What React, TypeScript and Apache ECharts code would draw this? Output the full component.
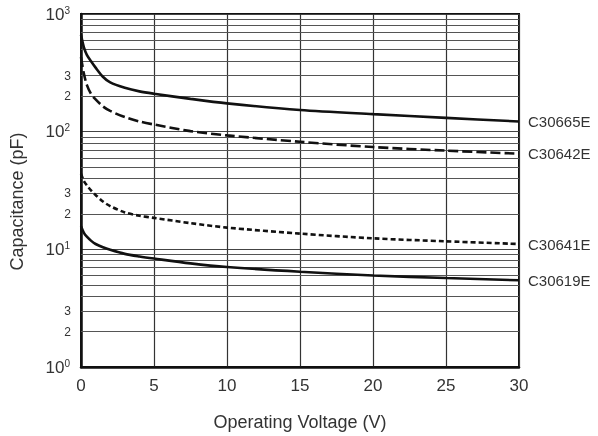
import React, { useEffect, useRef } from "react";
import * as echarts from "echarts";

const voltage = [0, 0.2, 0.4, 0.7, 1.0, 1.5, 2.0, 3.0, 4.0, 5.0, 7.5, 10, 15, 20, 25, 30];
const c30665e = [665, 520, 450, 395, 350, 293, 262, 236, 220, 210, 190, 174, 153, 141, 131, 122];
const c30642e = [430, 310, 250, 208, 188, 164, 150, 133, 122, 115, 101, 93, 82, 74, 69, 65];
const c30641e = [44, 38, 35, 31.5, 29, 25.5, 23.3, 20.6, 19.3, 18.5, 16.7, 15.3, 13.6, 12.4, 11.7, 11.1];
const c30619e = [15.7, 13.8, 12.8, 11.8, 11.1, 10.4, 9.9, 9.15, 8.7, 8.35, 7.6, 7.08, 6.45, 6.0, 5.7, 5.46];
const seriesNames = ["C30665E", "C30642E", "C30641E", "C30619E"];
const minorGrid = [2, 3, 4, 5, 6, 7, 8, 9, 20, 30, 40, 50, 60, 70, 80, 90, 200, 300, 400, 500, 600, 700, 800, 900];
const labeledMinor = [2, 3, 20, 30, 200, 300];
const xTicks = { min: 0, max: 30, interval: 5 };

const FONT = "'Liberation Sans', Arial, Helvetica, sans-serif";

export default function App() {
  const ref = useRef<HTMLDivElement>(null);
  useEffect(() => {
    if (!ref.current) return;
    const chart = echarts.init(ref.current, undefined, { renderer: "svg" });
    const values = [c30665e, c30642e, c30641e, c30619e];
    const dashes: any[] = ["solid", [10, 4], [5, 3], "solid"];
    const series: any[] = values.map((vals, i) => ({
      name: seriesNames[i],
      type: "line",
      data: voltage.map((v, j) => [v, vals[j]]),
      showSymbol: false,
      smooth: 0.3,
      lineStyle: { color: "#111", width: 2.6, type: dashes[i] },
      endLabel: {
        show: true,
        formatter: seriesNames[i],
        color: "#333",
        fontSize: 15,
        fontFamily: FONT,
        distance: 9,
      },
      z: 5,
    }));
    series[0].markLine = {
      silent: true,
      symbol: "none",
      animation: false,
      lineStyle: { color: "#555", width: 1, type: "solid" },
      data: minorGrid.map((v) => ({
        yAxis: v,
        label: {
          show: labeledMinor.indexOf(v) >= 0,
          position: "start",
          formatter: String(v).charAt(0),
          color: "#333",
          fontSize: 12,
          fontFamily: FONT,
          distance: 10,
        },
      })),
    };
    chart.setOption({
      animation: false,
      grid: {
        left: 78,
        right: 79,
        top: 14,
        bottom: 67,
        show: true,
        borderColor: "#111",
        borderWidth: 2,
        backgroundColor: "transparent",
      },
      xAxis: {
        type: "value",
        min: xTicks.min,
        max: xTicks.max,
        interval: xTicks.interval,
        name: "Operating Voltage (V)",
        nameLocation: "middle",
        nameGap: 46,
        nameTextStyle: { fontSize: 18, color: "#333", fontFamily: FONT },
        axisLine: { show: true, lineStyle: { color: "#111", width: 2.5 } },
        axisTick: { show: false },
        axisLabel: { fontSize: 17, color: "#333", fontFamily: FONT, margin: 10 },
        splitLine: { show: true, lineStyle: { color: "#333", width: 1.2 } },
      },
      yAxis: {
        type: "log",
        logBase: 10,
        min: 1,
        max: 1000,
        name: "Capacitance (pF)",
        nameLocation: "middle",
        nameGap: 55,
        nameTextStyle: { fontSize: 18, color: "#333", fontFamily: FONT, padding: [0, 22, 0, 0] },
        axisLine: { show: true, lineStyle: { color: "#111", width: 2.5 } },
        axisTick: { show: false },
        axisLabel: {
          margin: 11,
          fontFamily: FONT,
          formatter: (val: number) => {
            const e = Math.round(Math.log10(val));
            return "{b|10}{s|" + e + "}";
          },
          rich: {
            b: { fontSize: 17, color: "#333", fontFamily: FONT, lineHeight: 18 },
            s: { fontSize: 10, color: "#333", fontFamily: FONT, verticalAlign: "top", lineHeight: 10 },
          },
        },
        splitLine: { show: true, lineStyle: { color: "#444", width: 1 } },
      },
      series,
    });
    return () => chart.dispose();
  }, []);
  return (
    <div
      ref={ref}
      style={{ position: "fixed", left: 0, top: 0, width: 598, height: 436 }}
    />
  );
}
